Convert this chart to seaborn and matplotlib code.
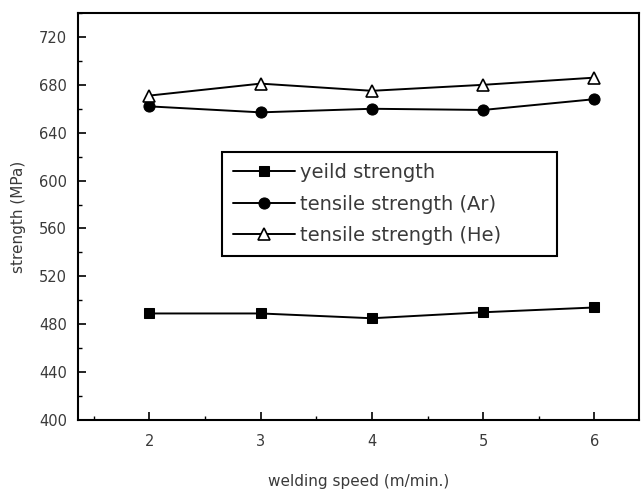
import matplotlib
matplotlib.use("Agg")
import matplotlib.pyplot as plt
import seaborn as sns
import pandas as pd
from matplotlib.ticker import MultipleLocator

speed = [2, 3, 4, 5, 6]
yield_strength = [489, 489, 485, 490, 494]
tensile_ar = [662, 657, 660, 659, 668]
tensile_he = [671, 681, 675, 680, 686]
labels = ["yeild strength", "tensile strength (Ar)", "tensile strength (He)"]

sns.set_theme(style="white")
plt.rcParams['font.family'] = ['DejaVu Sans']
txt = '#3a3a3a'

fig = plt.figure(figsize=(6.41, 4.91), dpi=100)
ax = fig.add_axes([78/641, 1-420/491, (639-78)/641, (420-13)/491])

series = [
    (yield_strength, labels[0], dict(marker='s', markerfacecolor='black', markeredgecolor='black', markersize=7.5)),
    (tensile_ar, labels[1], dict(marker='o', markerfacecolor='black', markeredgecolor='black', markersize=8)),
    (tensile_he, labels[2], dict(marker='^', markerfacecolor='white', markeredgecolor='black', markersize=8.5, markeredgewidth=1.2)),
]
for vals, lab, kw in series:
    df = pd.DataFrame({"speed": speed, "strength": vals})
    sns.lineplot(data=df, x="speed", y="strength", ax=ax, color='black',
                 linewidth=1.4, label=lab, **kw)

ax.set_xlim(1.36, 6.40)
ax.set_ylim(400, 740)
ax.xaxis.set_major_locator(MultipleLocator(1))
ax.xaxis.set_minor_locator(MultipleLocator(0.5))
ax.set_yticks(range(400, 721, 40))
ax.yaxis.set_minor_locator(MultipleLocator(20))
ax.tick_params(axis='both', which='both', bottom=True, left=True, top=False, right=False)
ax.tick_params(axis='both', which='major', direction='in', length=6, width=1.2,
               color='black', labelcolor=txt, labelsize=10.5)
ax.tick_params(axis='both', which='minor', direction='in', length=3, width=1.0, color='black')
ax.tick_params(axis='x', which='major', pad=10)
ax.tick_params(axis='y', which='major', pad=8)

for s in ax.spines.values():
    s.set_color('black')
    s.set_linewidth(1.5)

ax.set_xlabel("welding speed (m/min.)", fontsize=11, color=txt, labelpad=18)
ax.set_ylabel("strength (MPa)", fontsize=11, color=txt, labelpad=9)

leg = ax.legend(loc='upper left', bbox_to_anchor=(0.257, 0.400, 0.597, 0.258),
                mode='expand', borderaxespad=0, frameon=True, fancybox=False,
                fontsize=14, handlelength=3.2, handletextpad=0.25, borderpad=0.55,
                labelspacing=0.65)
frame = leg.get_frame()
frame.set_edgecolor('black')
frame.set_linewidth(1.5)
frame.set_alpha(1)
for t in leg.get_texts():
    t.set_color(txt)

fig.savefig("out.png", dpi=100)
